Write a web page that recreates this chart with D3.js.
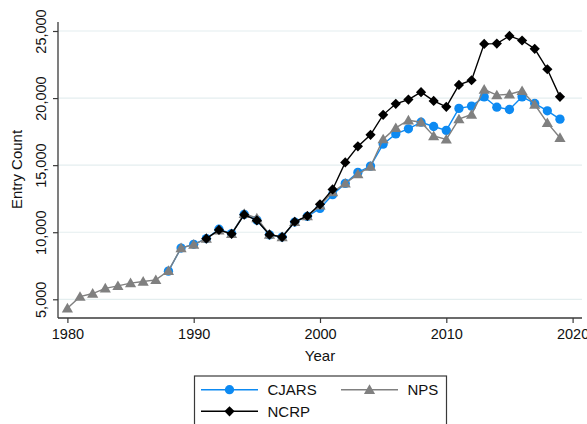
<!DOCTYPE html>
<html>
<head>
<meta charset="utf-8">
<script src="https://cdn.jsdelivr.net/npm/d3@7"></script>
<style>
  body { margin: 0; background: #fff; }
  text { font-family: "Liberation Sans", Arial, sans-serif; fill: #111; }
</style>
</head>
<body>
<svg id="chart" width="587" height="424"></svg>
<script>
// data
var cjarsYears = d3.range(1988, 2020);
var cjarsValues = [7100, 8820, 9100, 9520, 10220, 9900, 11330, 10900, 9800, 9640, 10760, 11180, 11780,
  12800, 13640, 14460, 14930, 16570, 17330, 17710, 18200, 17880, 17590, 19230, 19400, 20090,
  19320, 19150, 20090, 19600, 19050, 18430];
var npsYears = d3.range(1980, 2020);
var npsValues = [4330, 5200, 5430, 5820, 6000, 6210, 6330, 6450, 7130, 8830, 9080, 9530, 10150,
  9880, 11380, 11050, 9830, 9650, 10770, 11200, 12000, 13000, 13640, 14330, 14900, 16940,
  17780, 18350, 18200, 17180, 16920, 18430, 18780, 20640, 20220, 20290, 20540, 19520, 18150, 17040];
var ncrpYears = d3.range(1991, 2020);
var ncrpValues = [9520, 10170, 9880, 11310, 10880, 9820, 9640, 10780, 11210, 12080, 13190, 15200,
  16400, 17260, 18750, 19570, 19890, 20440, 19790, 19350, 20980, 21330, 24040, 24060, 24630,
  24290, 23670, 22150, 20090];
var xTicks = [1980, 1990, 2000, 2010, 2020];
var yTicks = [5000, 10000, 15000, 20000, 25000];

var series = [
  { name: "CJARS", years: cjarsYears, values: cjarsValues, color: "#0d8af2", shape: "circle" },
  { name: "NPS", years: npsYears, values: npsValues, color: "#808080", shape: "triangle" },
  { name: "NCRP", years: ncrpYears, values: ncrpValues, color: "#000000", shape: "diamond" }
];

var svg = d3.select("#chart");
var plotLeft = 58, plotRight = 582, plotTop = 22, plotBottom = 318;

var x = d3.scaleLinear().domain([1980, 2020]).range([67.4, 572.6]);
var y = d3.scaleLinear().domain([5000, 25000]).range([299.3, 31]);

// grid
svg.append("g").selectAll("line").data(yTicks).join("line")
  .attr("x1", plotLeft).attr("x2", plotRight)
  .attr("y1", d => y(d)).attr("y2", d => y(d))
  .attr("stroke", "#e4eeef").attr("stroke-width", 1.2);

// axes
var fmt = d3.format(",");
var yAxis = svg.append("g").attr("transform", "translate(" + plotLeft + ",0)")
  .call(d3.axisLeft(y).tickValues(yTicks).tickSize(5).tickFormat(fmt));
yAxis.select(".domain").remove();
yAxis.append("line").attr("x1", 0).attr("x2", 0).attr("y1", plotTop).attr("y2", plotBottom)
  .attr("stroke", "#3a3a3a").attr("stroke-width", 1.3);
yAxis.selectAll(".tick line").attr("stroke", "#3a3a3a").attr("stroke-width", 1.2);
yAxis.selectAll(".tick text")
  .attr("transform", "rotate(-90)")
  .attr("x", 0).attr("y", -12.5).attr("dy", 0)
  .attr("text-anchor", "middle")
  .style("font-size", "14.5px").style("font-family", "Liberation Sans, Arial, sans-serif").style("fill", "#111");

var xAxis = svg.append("g").attr("transform", "translate(0," + plotBottom + ")")
  .call(d3.axisBottom(x).tickValues(xTicks).tickSize(5).tickFormat(d3.format("d")));
xAxis.select(".domain").remove();
xAxis.append("line").attr("x1", plotLeft).attr("x2", plotRight).attr("y1", 0).attr("y2", 0)
  .attr("stroke", "#3a3a3a").attr("stroke-width", 1.3);
xAxis.selectAll(".tick line").attr("stroke", "#3a3a3a").attr("stroke-width", 1.2);
xAxis.selectAll(".tick text").attr("y", 21).attr("dy", 0)
  .style("font-size", "14.5px").style("font-family", "Liberation Sans, Arial, sans-serif").style("fill", "#111");

svg.append("text").attr("x", 320).attr("y", 361)
  .attr("text-anchor", "middle").style("font-size", "15px").text("Year");
svg.append("text").attr("transform", "translate(22,169.5) rotate(-90)")
  .attr("text-anchor", "middle").style("font-size", "15px").text("Entry Count");

function symbolPath(shape) {
  if (shape === "circle") return d3.symbol().type(d3.symbolCircle).size(68)();
  if (shape === "triangle") return d3.symbol().type(d3.symbolTriangle).size(54)();
  return d3.symbol().type(d3.symbolSquare).size(52)();
}
function symbolRot(shape) { return shape === "diamond" ? " rotate(45)" : ""; }
function symbolShift(shape) { return shape === "triangle" ? 1 : 0; }

var line = d3.line().x(d => x(d[0])).y(d => y(d[1]));

series.forEach(function(s) {
  var pts = s.years.map((yr, i) => [yr, s.values[i]]);
  var g = svg.append("g");
  g.append("path").datum(pts).attr("d", line)
    .attr("fill", "none").attr("stroke", s.color).attr("stroke-width", 1.4);
  g.selectAll("path.m").data(pts).join("path").attr("class", "m")
    .attr("d", symbolPath(s.shape))
    .attr("transform", d => "translate(" + x(d[0]) + "," + (y(d[1]) + symbolShift(s.shape)) + ")" + symbolRot(s.shape))
    .attr("fill", s.color);
});

// legend
var lg = svg.append("g");
lg.append("rect").attr("x", 194.5).attr("y", 376).attr("width", 252).attr("height", 60)
  .attr("fill", "#fff").attr("stroke", "#3a3a3a").attr("stroke-width", 1.2);
var legendPos = [
  { x0: 201, row: 389.7 },
  { x0: 341, row: 389.7 },
  { x0: 201, row: 411.3 }
];
series.forEach(function(s, i) {
  var p = legendPos[i];
  lg.append("line").attr("x1", p.x0).attr("x2", p.x0 + 57).attr("y1", p.row).attr("y2", p.row)
    .attr("stroke", s.color).attr("stroke-width", 1.4);
  lg.append("path").attr("d", symbolPath(s.shape))
    .attr("transform", "translate(" + (p.x0 + 28.5) + "," + (p.row + symbolShift(s.shape)) + ")" + symbolRot(s.shape))
    .attr("fill", s.color);
  lg.append("text").attr("x", p.x0 + 66.5).attr("y", p.row + 5.5)
    .style("font-size", "15px").text(s.name);
});
</script>
</body>
</html>
